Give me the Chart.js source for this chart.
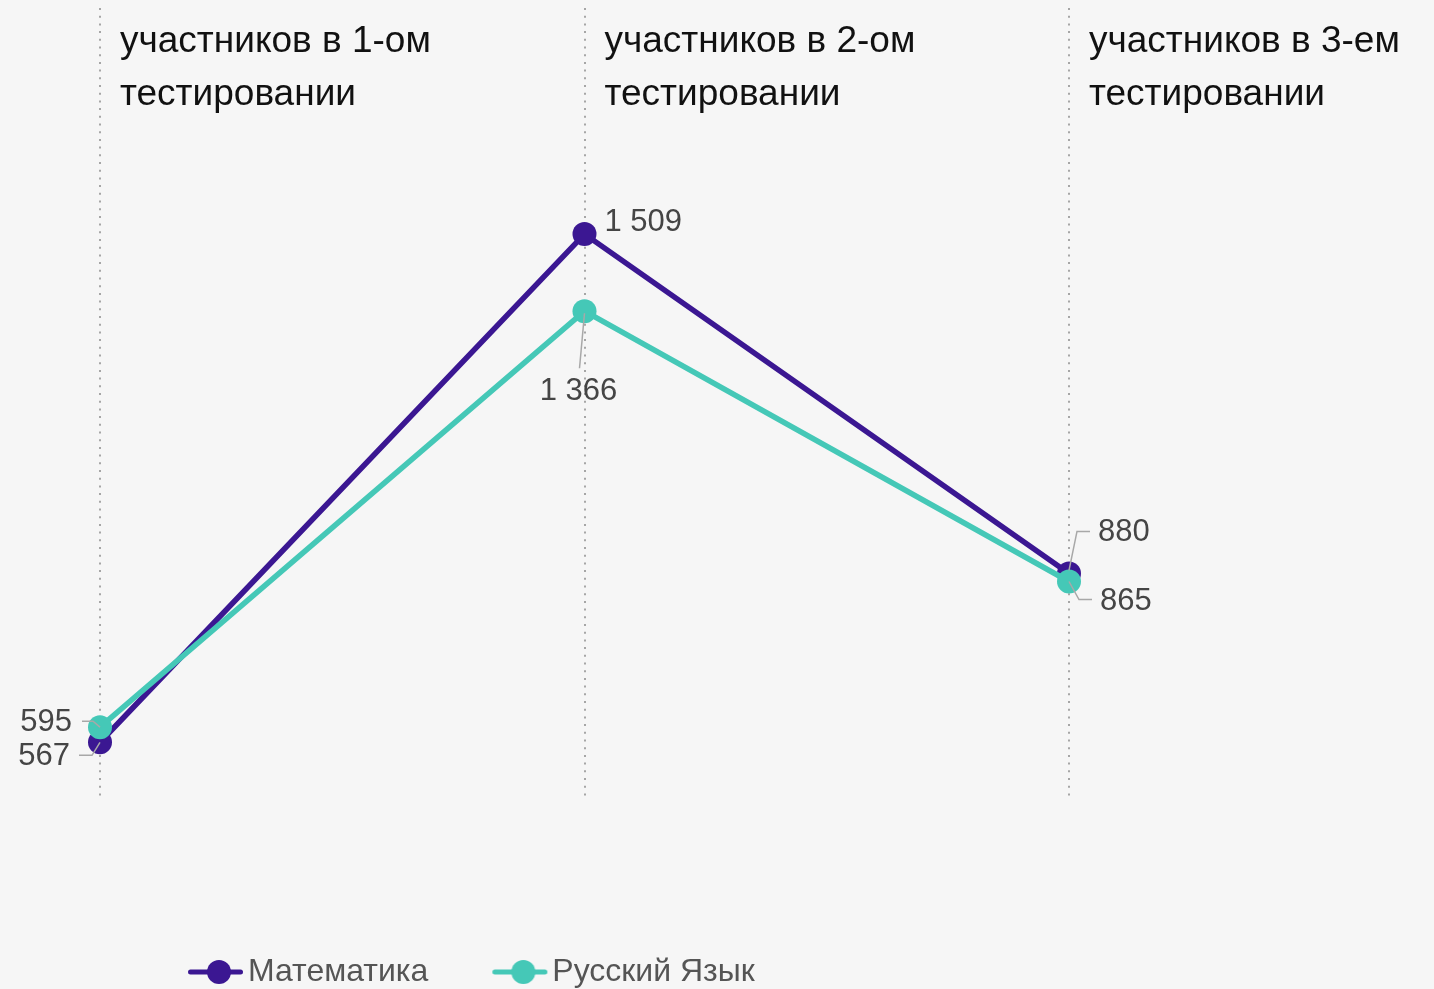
<!DOCTYPE html>
<html>
<head>
<meta charset="utf-8">
<script src="https://cdn.jsdelivr.net/npm/chart.js@4.4.1/dist/chart.umd.min.js"></script>
<style>
  html, body { margin: 0; padding: 0; background: #f6f6f6; overflow: hidden; }
  #wrap { width: 1434px; height: 989px; }
</style>
</head>
<body>
<div id="wrap"><canvas id="c" width="1434" height="989"></canvas></div>
<script>
// ---- data ----
const categories = [
  ['участников в 1-ом', 'тестировании'],
  ['участников в 2-ом', 'тестировании'],
  ['участников в 3-ем', 'тестировании']
];
const seriesNames = ['Математика', 'Русский Язык'];
const mathValues = [567, 1509, 880];
const russianValues = [595, 1366, 865];
const yMin = 460;
const yMax = 1928;

// ---- styles ----
const colors = ['#3b1792', '#45c8b7'];
const FONT = '"Liberation Sans", Arial, sans-serif';

// label placement relative to the point pixel (style only)
const labelLayouts = [
  [
    { ax: -30, ay: 14, align: 'right', line: [[0, 0], [-8, 13], [-21, 13]] },
    { ax: 20, ay: -12, align: 'left', line: null },
    { ax: 29, ay: -41, align: 'left', line: [[0, -3], [8, -42], [21, -42]] }
  ],
  [
    { ax: -28, ay: -4.5, align: 'right', line: [[0, 0], [-7, -6], [-18, -6]] },
    { ax: -6, ay: 80, align: 'center', line: [[0, 2], [-5, 57]] },
    { ax: 31, ay: 19.5, align: 'left', line: [[0, 0], [10, 18], [23, 18]] }
  ]
];

function fmt(v) {
  return String(v).replace(/\B(?=(\d{3})+(?!\d))/g, ' ');
}

function makeMarker(color) {
  const c = document.createElement('canvas');
  c.width = 128; c.height = 30;
  const g = c.getContext('2d');
  g.strokeStyle = color;
  g.lineWidth = 5;
  g.lineCap = 'round';
  g.beginPath();
  g.moveTo(71.5, 15);
  g.lineTo(121.5, 15);
  g.stroke();
  g.fillStyle = color;
  g.beginPath();
  g.arc(100, 15, 12, 0, Math.PI * 2);
  g.fill();
  return c;
}
const markers = colors.map(makeMarker);

const categoryTitles = {
  id: 'categoryTitles',
  afterDraw(chart) {
    const ctx = chart.ctx;
    const xs = chart.scales.x;
    ctx.save();
    ctx.font = '37px ' + FONT;
    ctx.fillStyle = '#111111';
    ctx.textAlign = 'left';
    ctx.textBaseline = 'alphabetic';
    categories.forEach((lines, i) => {
      const x = xs.getPixelForValue(i) + 20;
      lines.forEach((t, k) => ctx.fillText(t, x, 52 + k * 53));
    });
    ctx.restore();
  }
};

const valueLabels = {
  id: 'valueLabels',
  afterDraw(chart) {
    const ctx = chart.ctx;
    ctx.save();
    chart.data.datasets.forEach((ds, di) => {
      const meta = chart.getDatasetMeta(di);
      meta.data.forEach((pt, i) => {
        const L = labelLayouts[di][i];
        if (L.line) {
          ctx.strokeStyle = '#a8a8a8';
          ctx.lineWidth = 1.5;
          ctx.beginPath();
          L.line.forEach((p, k) => {
            const X = pt.x + p[0], Y = pt.y + p[1];
            if (k === 0) ctx.moveTo(X, Y); else ctx.lineTo(X, Y);
          });
          ctx.stroke();
        }
        ctx.font = '31px ' + FONT;
        ctx.fillStyle = '#454545';
        ctx.textAlign = L.align;
        ctx.textBaseline = 'middle';
        ctx.fillText(fmt(ds.data[i]), pt.x + L.ax, pt.y + L.ay);
      });
    });
    ctx.restore();
  }
};

const legendShift = {
  id: 'legendShift',
  afterLayout(chart) {
    const lg = chart.legend;
    if (lg) { lg.left += 24; lg.right += 24; }
  }
};

const baseGen = Chart.defaults.plugins.legend.labels.generateLabels;

new Chart(document.getElementById('c'), {
  type: 'line',
  data: {
    labels: categories,
    datasets: [
      {
        label: seriesNames[0],
        data: mathValues,
        order: 1,
        borderColor: colors[0],
        backgroundColor: colors[0],
        pointBackgroundColor: colors[0],
        borderWidth: 5.5,
        pointRadius: 12,
        pointHoverRadius: 12,
        pointBorderWidth: 0,
        tension: 0,
        clip: false
      },
      {
        label: seriesNames[1],
        data: russianValues,
        order: 0,
        borderColor: colors[1],
        backgroundColor: colors[1],
        pointBackgroundColor: colors[1],
        borderWidth: 5.5,
        pointRadius: 12,
        pointHoverRadius: 12,
        pointBorderWidth: 0,
        tension: 0,
        clip: false
      }
    ]
  },
  options: {
    responsive: false,
    devicePixelRatio: 1,
    animation: false,
    events: [],
    layout: { autoPadding: false, padding: { top: 8, left: 100, right: 365, bottom: -9 } },
    scales: {
      x: {
        type: 'category',
        position: 'bottom',
        offset: false,
        z: 1,
        grid: { display: true, drawTicks: false, color: '#a6a6a6', lineWidth: 2 },
        border: { display: false, dash: [2, 5.7] },
        ticks: { display: false },
        afterFit(scale) { scale.height = 146; }
      },
      y: {
        display: false,
        min: yMin,
        max: yMax
      }
    },
    plugins: {
      tooltip: { enabled: false },
      legend: {
        display: true,
        position: 'bottom',
        align: 'start',
        labels: {
          usePointStyle: true,
          pointStyleWidth: 98,
          padding: 10,
          color: '#555555',
          font: { family: FONT, size: 32 },
          sort: (a, b) => a.datasetIndex - b.datasetIndex,
          generateLabels(chart) {
            return baseGen(chart).map(it => Object.assign(it, { pointStyle: markers[it.datasetIndex] }));
          }
        }
      }
    }
  },
  plugins: [categoryTitles, valueLabels, legendShift]
});
</script>
</body>
</html>
